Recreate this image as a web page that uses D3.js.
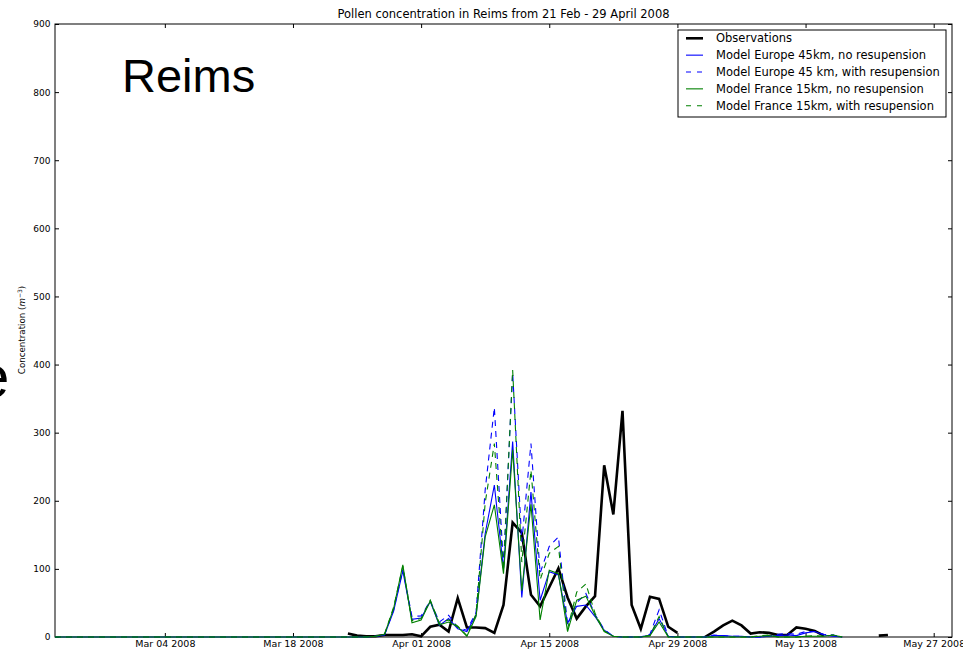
<!DOCTYPE html>
<html>
<head>
<meta charset="utf-8">
<script src="https://cdn.jsdelivr.net/npm/d3@7"></script>
<style>
  body { margin: 0; background: #fff; }
  svg text { font-family: "DejaVu Sans", sans-serif; }
</style>
</head>
<body>
<div id="chart"></div>
<script>
// daily series, first model value is 21 Feb 2008, first observation is 24 Mar 2008
const modelStart = new Date(2008, 1, 21);
const obsStart = new Date(2008, 2, 24);
const axisStart = new Date(2008, 1, 21);
const axisEnd = new Date(2008, 4, 29);

const observations = [
  5, 2, 1, 1, 3, 3, 3, 4,
  1, 15, 18, 8, 57, 14, 14, 13, 6, 47,
  168, 153, 62, 45, 73, 101, 58, 27, 45, 60,
  252, 180, 332, 47, 12, 59, 56, 15, 6, null,
  null, 0, 8, 17, 24, 17, 5, 7, 6, 3,
  3, 14, 12, 9, 2, null, null, null, null, null,
  2, 3
];

const europeNoResusp = [
  0, 0, 0, 0, 0, 0, 0, 0, 0, 0,
  0, 0, 0, 0, 0, 0, 0, 0, 0, 0,
  0, 0, 0, 0, 0, 0, 0, 0, 0, 0,
  0, 0, 0, 0, 0, 1, 3, 38, 97, 26,
  28, 52, 17, 27, 12, 8, 32, 152, 223, 100,
  287, 58, 213, 54, 96, 91, 20, 45, 47, 30,
  10, 1, 0, 0, 0, 3, 27, 1, 0, 0,
  0, 0, 2, 2, 1, 1, 0, 0, 1, 2,
  3, 2, 6, 8, 3, 1, 0
];

const europeResusp = [
  0, 0, 0, 0, 0, 0, 0, 0, 0, 0,
  0, 0, 0, 0, 0, 0, 0, 0, 0, 0,
  0, 0, 0, 0, 0, 0, 0, 0, 0, 0,
  0, 0, 0, 0, 0, 1, 3, 40, 99, 30,
  31, 53, 22, 32, 14, 10, 36, 216, 337, 105,
  388, 140, 284, 94, 133, 147, 18, 50, 64, 33,
  11, 1, 0, 0, 0, 4, 40, 1, 0, 0,
  0, 0, 3, 2, 1, 1, 0, 0, 1, 4,
  5, 4, 8, 8, 4, 3, 0
];

const franceNoResusp = [
  0, 0, 0, 0, 0, 0, 0, 0, 0, 0,
  0, 0, 0, 0, 0, 0, 0, 0, 0, 0,
  0, 0, 0, 0, 0, 0, 0, 0, 0, 0,
  0, 0, 0, 0, 0, 1, 4, 42, 106, 21,
  25, 53, 18, 22, 15, 1, 30, 147, 194, 93,
  275, 68, 195, 25, 98, 93, 8, 54, 60, 32,
  8, 1, 0, 0, 0, 2, 22, 0, 0, 0,
  0, 0, 0, 0, 0, 0, 0, 1, 2, 0,
  0, 0, 1, 1, 1, 3, 0
];

const franceResusp = [
  0, 0, 0, 0, 0, 0, 0, 0, 0, 0,
  0, 0, 0, 0, 0, 0, 0, 0, 0, 0,
  0, 0, 0, 0, 0, 0, 0, 0, 0, 0,
  0, 0, 0, 0, 0, 1, 4, 44, 104, 24,
  27, 54, 20, 25, 16, 2, 34, 197, 284, 98,
  392, 110, 245, 84, 123, 133, 12, 66, 78, 35,
  9, 1, 0, 0, 0, 2, 30, 0, 0, 0,
  0, 0, 0, 0, 0, 0, 0, 2, 3, 0,
  0, 0, 1, 2, 1, 3, 0
];

const legendLabels = [
  "Observations",
  "Model Europe 45km, no resupension",
  "Model Europe 45 km, with resupension",
  "Model France 15km, no resupension",
  "Model France 15km, with resupension"
];
const yTicks = [0, 100, 200, 300, 400, 500, 600, 700, 800, 900];
const xTicks = [new Date(2008, 2, 4), new Date(2008, 2, 18), new Date(2008, 3, 1),
  new Date(2008, 3, 15), new Date(2008, 3, 29), new Date(2008, 4, 13), new Date(2008, 4, 27)];

const W = 963, H = 650;
const margin = {top: 24, right: 11, bottom: 13, left: 55};
const width = W - margin.left - margin.right;
const height = H - margin.top - margin.bottom;

const svg = d3.select("#chart").append("svg")
    .attr("width", W)
    .attr("height", H);

const x = d3.scaleTime().domain([axisStart, axisEnd]).range([0, width]);
const y = d3.scaleLinear().domain([0, 900]).range([height, 0]);

// turn an array of daily values into {date, v} points
function toPoints(start, values) {
  return values.map(function(v, i) { return {date: d3.timeDay.offset(start, i), v: v}; });
}

const series = [
  {label: legendLabels[0], pts: toPoints(obsStart, observations), color: "#000", w: 2.6, dash: null},
  {label: legendLabels[1], pts: toPoints(modelStart, europeNoResusp), color: "#0000ff", w: 1.1, dash: null},
  {label: legendLabels[2], pts: toPoints(modelStart, europeResusp), color: "#0000ff", w: 1.1, dash: "6,5"},
  {label: legendLabels[3], pts: toPoints(modelStart, franceNoResusp), color: "#008000", w: 1.1, dash: null},
  {label: legendLabels[4], pts: toPoints(modelStart, franceResusp), color: "#008000", w: 1.1, dash: "6,5"}
];

const g = svg.append("g")
    .attr("transform", "translate(" + margin.left + "," + margin.top + ")");

// frame
g.append("rect")
    .attr("width", width).attr("height", height)
    .attr("fill", "none").attr("stroke", "#000").attr("stroke-width", 1);

// inward ticks on all four sides (matplotlib look)
const axisStyle = function(sel) {
  sel.select(".domain").remove();
  sel.selectAll("line").attr("stroke", "#000");
  sel.selectAll("text").attr("fill", "#000").style("font-family", "DejaVu Sans");
};

g.append("g")
    .attr("transform", "translate(0," + height + ")")
    .call(d3.axisBottom(x).tickValues(xTicks).tickFormat(d3.timeFormat("%b %d %Y"))
      .tickSizeInner(-4).tickPadding(3))
    .call(axisStyle)
    .selectAll("text").style("font-size", "9.5px");

g.append("g")
    .call(d3.axisTop(x).tickValues(xTicks).tickFormat("").tickSizeInner(-4))
    .call(axisStyle);

g.append("g")
    .call(d3.axisLeft(y).tickValues(yTicks).tickSizeInner(-4).tickPadding(4.5))
    .call(axisStyle)
    .selectAll("text").style("font-size", "9px");

g.append("g")
    .attr("transform", "translate(" + width + ",0)")
    .call(d3.axisRight(y).tickValues(yTicks).tickFormat("").tickSizeInner(-4))
    .call(axisStyle);

const line = d3.line()
    .defined(function(d) { return d.v != null; })
    .x(function(d) { return x(d.date); })
    .y(function(d) { return y(d.v); });

g.append("clipPath").attr("id", "plotclip")
  .append("rect").attr("x", -2).attr("y", -2).attr("width", width + 4).attr("height", height + 4);

g.append("g").attr("clip-path", "url(#plotclip)")
  .selectAll("path.series")
  .data(series)
  .enter().append("path")
    .attr("class", "series")
    .attr("d", function(d) { return line(d.pts); })
    .attr("fill", "none")
    .attr("stroke", function(d) { return d.color; })
    .attr("stroke-width", function(d) { return d.w; })
    .attr("stroke-dasharray", function(d) { return d.dash; })
    .attr("stroke-linejoin", "miter");

// title
svg.append("text")
    .attr("x", margin.left + width / 2)
    .attr("y", 18)
    .attr("text-anchor", "middle")
    .style("font-size", "11.5px")
    .text("Pollen concentration in Reims from 21 Feb - 29 April 2008");

// y label
const yl = svg.append("text")
    .attr("transform", "translate(25,330) rotate(-90)")
    .attr("text-anchor", "middle")
    .style("font-size", "8.7px");
yl.append("tspan").text("Concentration (");
yl.append("tspan").style("font-style", "italic").text("m");
yl.append("tspan").attr("dy", -3).style("font-size", "6px").text("\u22123");
yl.append("tspan").attr("dy", 3).text(")");

// big labels
svg.append("text")
    .attr("x", 122).attr("y", 92)
    .style("font-family", "Liberation Sans, Arial, sans-serif")
    .style("font-size", "47px")
    .text("Reims");

svg.append("text")
    .attr("x", -24).attr("y", 397)
    .style("font-family", "Liberation Sans, Arial, sans-serif")
    .style("font-size", "60px")
    .text("e");

// legend
const lg = svg.append("g").attr("transform", "translate(678,30)");
lg.append("rect")
    .attr("width", 268).attr("height", 87)
    .attr("fill", "#fff").attr("stroke", "#000").attr("stroke-width", 1);

const item = lg.selectAll("g.item")
  .data(series)
  .enter().append("g")
    .attr("class", "item")
    .attr("transform", function(d, i) { return "translate(0," + (8.3 + i * 16.85) + ")"; });

item.append("line")
    .attr("x1", 8).attr("x2", 25)
    .attr("stroke", function(d) { return d.color; })
    .attr("stroke-width", function(d) { return d.w; })
    .attr("stroke-dasharray", function(d) { return d.dash ? "5,6" : null; });

item.append("text")
    .attr("x", 38).attr("dy", "0.35em")
    .style("font-size", "11.5px")
    .text(function(d) { return d.label; });
</script>
</body>
</html>
